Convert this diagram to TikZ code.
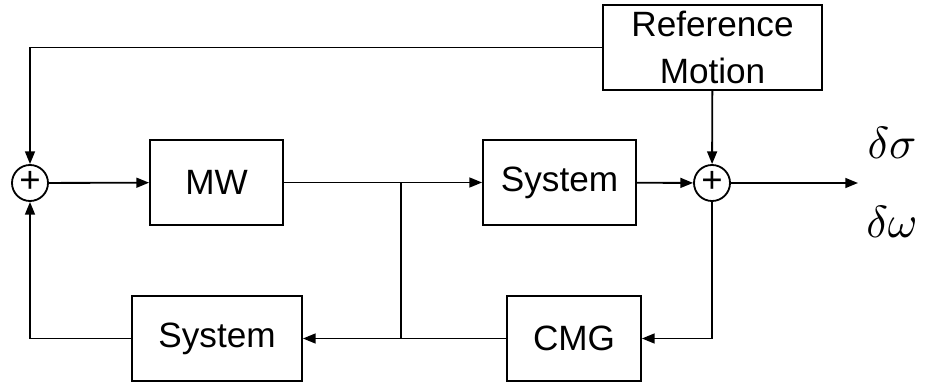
\documentclass[tikz,border=0pt]{standalone}
\usepackage{fontspec}
\setmainfont{Liberation Sans}
\usetikzlibrary{arrows.meta}
\begin{document}
\begin{tikzpicture}[x=0.025cm,y=-0.025cm,
  blk/.style={draw,line width=1.3pt,minimum width=#1*0.025cm,minimum height=85*0.025cm,inner sep=0pt,font=\fontsize{25}{28}\selectfont},
  sumnode/.style={draw,circle,line width=1.3pt,minimum size=36*0.025cm,inner sep=0pt,font=\fontsize{26}{28}\selectfont},
  wire/.style={line width=1.3pt},
  arr/.style={wire,-{Triangle[length=9pt,width=7pt]}},
  lbl/.style={scale=3.2}]
\useasboundingbox (0,0) rectangle (925,385);
\node[sumnode] (s1) at (30,183) {\raisebox{1.5pt}{+}};
\node[sumnode] (s2) at (712,183) {\raisebox{1.5pt}{+}};
\node[blk=133] (mw) at (216.5,182.5) {\raisebox{-2pt}{MW}};
\node[blk=153] (sys1) at (559.5,182.5) {\raisebox{-2pt}{System}};
\node[blk=219,align=center,font=\fontsize{25}{34}\selectfont] (ref) at (712.5,47.5) {Reference\\Motion};
\node[blk=134] (cmg) at (574,338.5) {\raisebox{-2pt}{CMG}};
\node[blk=170] (sys2) at (217,338.5) {\raisebox{-2pt}{System}};
\coordinate (out) at (858,183);
\coordinate (br) at (401,183);
\coordinate (brb) at (401,338.5);
\node[lbl] (ds) at (892,143) {$\delta\sigma$};
\node[lbl] (dw) at (892,222) {$\delta\omega$};
\draw[arr] (s1) -- (mw);
\draw[arr] (mw) -- (sys1);
\draw[arr] (sys1) -- (s2);
\draw[arr] (s2) -- (out);
\draw[arr] (ref) -- (s2);
\draw[arr] (ref.west) -| (s1.north);
\draw[arr] (s2.south) |- (cmg.east);
\draw[arr] (cmg.west) -- (sys2.east);
\draw[wire] (br) -- (brb);
\draw[arr] (sys2.west) -| (s1.south);
\end{tikzpicture}
\end{document}
